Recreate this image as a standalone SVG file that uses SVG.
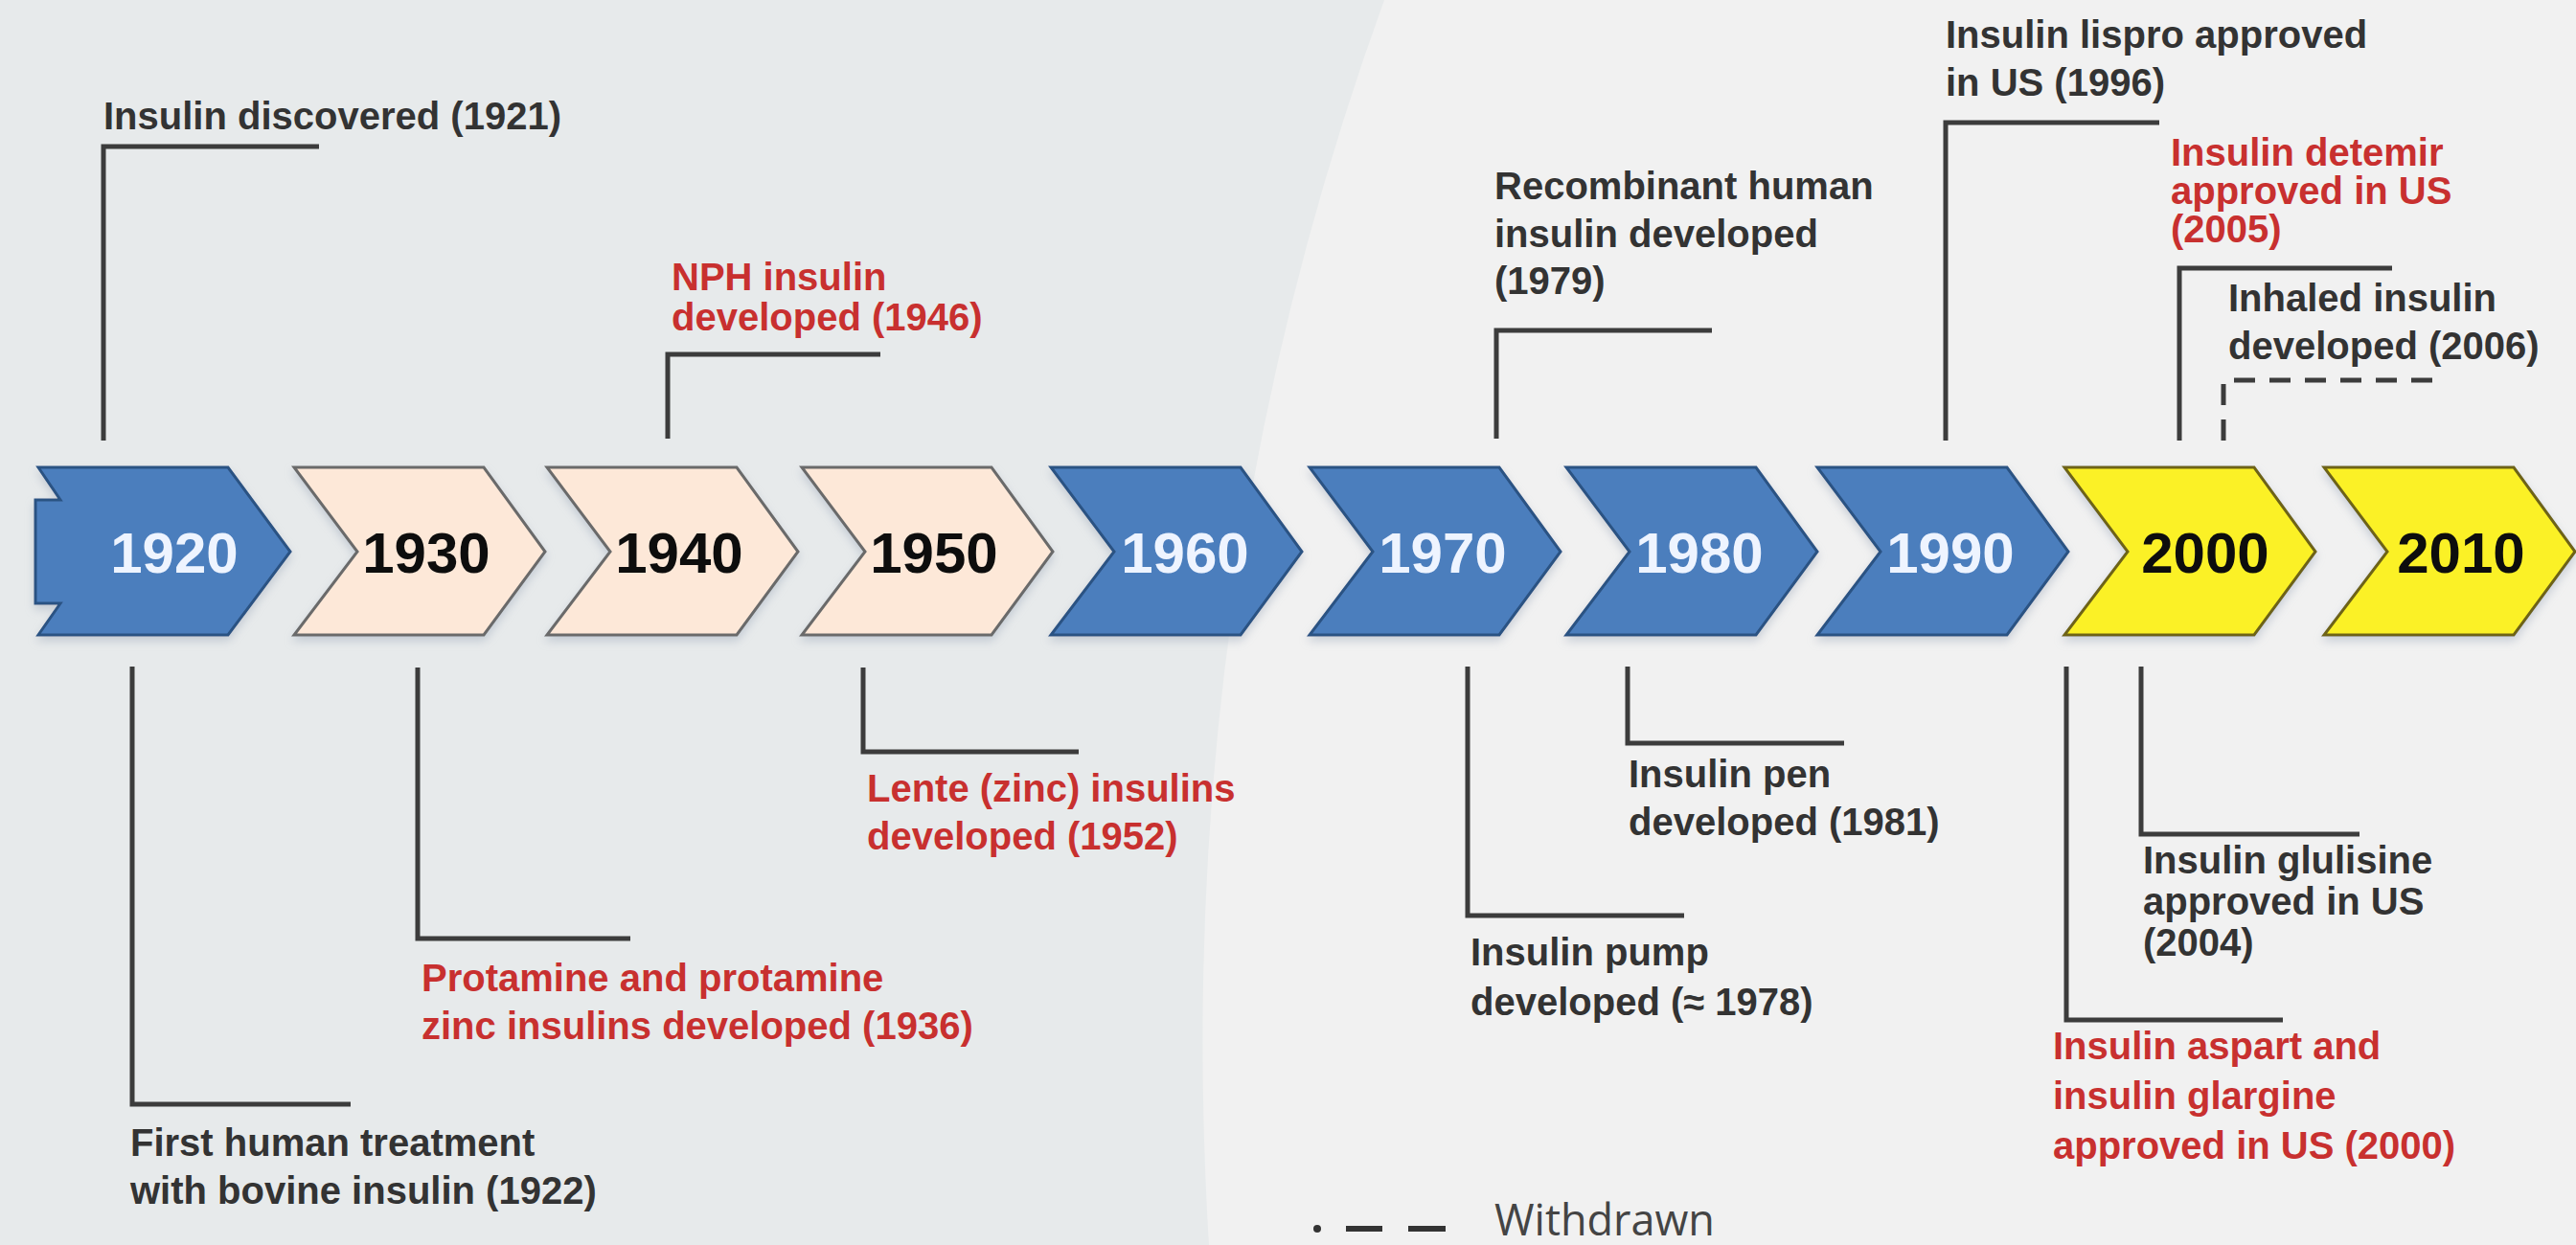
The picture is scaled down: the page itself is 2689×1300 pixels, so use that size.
<svg xmlns="http://www.w3.org/2000/svg" width="2689" height="1300" viewBox="0 0 2689 1300">
<defs>
<style>
.lbl{font-family:"Liberation Sans",Arial,sans-serif;font-weight:bold;font-size:40px;fill:#333333}
.red{fill:#c8302f}
.yr{font-family:"Liberation Sans",Arial,sans-serif;font-weight:bold;font-size:60px;text-anchor:middle}
.blue{fill:#4c7ebd;stroke:#2b5283;stroke-width:3;stroke-linejoin:miter}
.beige{fill:#fde8d8;stroke:#6a6a6a;stroke-width:3}
.yel{fill:#fbf126;stroke:#6e6418;stroke-width:3}
.con{fill:none;stroke:#3c3c3c;stroke-width:5}
.dash{fill:none;stroke:#3c3c3c;stroke-width:5;stroke-dasharray:22 15}
</style>
<filter id="sh" x="-10%" y="-20%" width="120%" height="140%">
<feGaussianBlur in="SourceAlpha" stdDeviation="5"/>
<feOffset dx="0" dy="5" result="b"/>
<feFlood flood-color="#9aa6b8" flood-opacity="0.45"/>
<feComposite in2="b" operator="in"/>
<feMerge><feMergeNode/><feMergeNode in="SourceGraphic"/></feMerge>
</filter>
<polygon id="chev" points="0,0 198,0 262,88 198,175 0,175 66,88"/>
</defs>
<rect x="0" y="0" width="2689" height="1300" fill="#e7eaeb"/>
<path d="M1445,0 Q1220,620 1262,1300 L2689,1300 L2689,0 Z" fill="#f1f1f1"/>

<g id="timeline" filter="url(#sh)">
<g id="y1920"><polygon class="blue" points="40,488 238,488 303,576 238,663 40,663 63,630 37,630 37,522 63,522"/><text class="yr" x="182" y="598" fill="#eef4ff">1920</text></g>
<g id="y1930"><use href="#chev" class="beige" x="307" y="488"/><text class="yr" x="445" y="598" fill="#111">1930</text></g>
<g id="y1940"><use href="#chev" class="beige" x="571" y="488"/><text class="yr" x="709" y="598" fill="#111">1940</text></g>
<g id="y1950"><use href="#chev" class="beige" x="837" y="488"/><text class="yr" x="975" y="598" fill="#111">1950</text></g>
<g id="y1960"><use href="#chev" class="blue" x="1097" y="488"/><text class="yr" x="1237" y="598" fill="#eef4ff">1960</text></g>
<g id="y1970"><use href="#chev" class="blue" x="1367" y="488"/><text class="yr" x="1506" y="598" fill="#eef4ff">1970</text></g>
<g id="y1980"><use href="#chev" class="blue" x="1635" y="488"/><text class="yr" x="1774" y="598" fill="#eef4ff">1980</text></g>
<g id="y1990"><use href="#chev" class="blue" x="1897" y="488"/><text class="yr" x="2036" y="598" fill="#eef4ff">1990</text></g>
<g id="y2000"><use href="#chev" class="yel" x="2155" y="488"/><text class="yr" x="2302" y="598" fill="#111">2000</text></g>
<g id="y2010"><use href="#chev" class="yel" x="2426" y="488"/><text class="yr" x="2569" y="598" fill="#111">2010</text></g>
</g>

<g id="connectors">
<path class="con" d="M108,460 V153 H333"/>
<path class="con" d="M138,696 V1153 H366"/>
<path class="con" d="M436,697 V980 H658"/>
<path class="con" d="M697,458 V370 H919"/>
<path class="con" d="M901,697 V785 H1126"/>
<path class="con" d="M1562,458 V345 H1787"/>
<path class="con" d="M1532,696 V956 H1758"/>
<path class="con" d="M1699,696 V776 H1925"/>
<path class="con" d="M2031,460 V128 H2254"/>
<path class="con" d="M2275,460 V280 H2497"/>
<path class="dash" d="M2321,460 V397 H2546"/>
<path class="con" d="M2235,696 V871 H2463"/>
<path class="con" d="M2157,696 V1065 H2383"/>
</g>

<g id="e1921"><text class="lbl" x="108" y="135">Insulin discovered (1921)</text></g>
<g id="e1922"><text class="lbl" x="136" y="1207">First human treatment</text><text class="lbl" x="136" y="1257">with bovine insulin (1922)</text></g>
<g id="e1936"><text class="lbl red" x="440" y="1035">Protamine and protamine</text><text class="lbl red" x="440" y="1085">zinc insulins developed (1936)</text></g>
<g id="e1946"><text class="lbl red" x="701" y="303">NPH insulin</text><text class="lbl red" x="701" y="345">developed (1946)</text></g>
<g id="e1952"><text class="lbl red" x="905" y="837">Lente (zinc) insulins</text><text class="lbl red" x="905" y="887">developed (1952)</text></g>
<g id="e1979"><text class="lbl" x="1560" y="208">Recombinant human</text><text class="lbl" x="1560" y="258">insulin developed</text><text class="lbl" x="1560" y="307">(1979)</text></g>
<g id="e1978"><text class="lbl" x="1535" y="1008">Insulin pump</text><text class="lbl" x="1535" y="1060">developed (≈ 1978)</text></g>
<g id="e1981"><text class="lbl" x="1700" y="822">Insulin pen</text><text class="lbl" x="1700" y="872">developed (1981)</text></g>
<g id="e1996"><text class="lbl" x="2031" y="50">Insulin lispro approved</text><text class="lbl" x="2031" y="100">in US (1996)</text></g>
<g id="e2005"><text class="lbl red" x="2266" y="173">Insulin detemir</text><text class="lbl red" x="2266" y="213">approved in US</text><text class="lbl red" x="2266" y="253">(2005)</text></g>
<g id="e2006"><text class="lbl" x="2326" y="325">Inhaled insulin</text><text class="lbl" x="2326" y="375">developed (2006)</text></g>
<g id="e2004"><text class="lbl" x="2237" y="912">Insulin glulisine</text><text class="lbl" x="2237" y="955">approved in US</text><text class="lbl" x="2237" y="998">(2004)</text></g>
<g id="e2000"><text class="lbl red" x="2143" y="1106">Insulin aspart and</text><text class="lbl red" x="2143" y="1158">insulin glargine</text><text class="lbl red" x="2143" y="1210">approved in US (2000)</text></g>

<g id="legend">
<circle cx="1375" cy="1283" r="4" fill="#333"/>
<line x1="1405" y1="1283" x2="1443" y2="1283" stroke="#333" stroke-width="6"/>
<line x1="1470" y1="1283" x2="1509" y2="1283" stroke="#333" stroke-width="6"/>
<text x="1560" y="1290" font-family="'Open Sans','Liberation Sans',sans-serif" font-size="45" fill="#444">Withdrawn</text>
</g>
</svg>
